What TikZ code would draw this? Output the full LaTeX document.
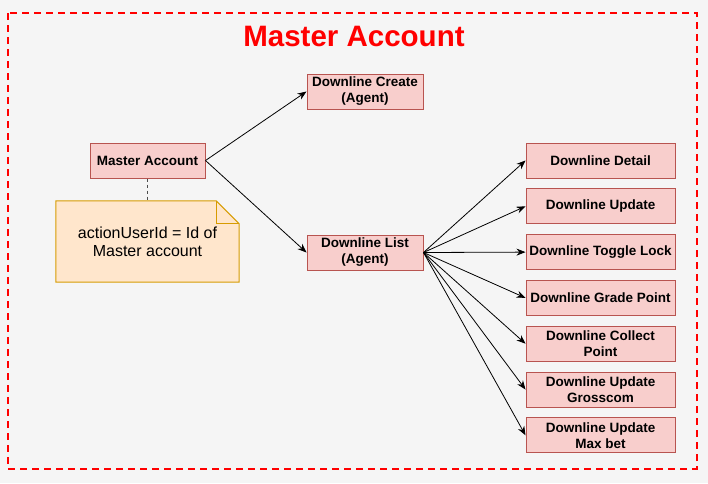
\documentclass[tikz,border=0pt]{standalone}
\usepackage{fontspec}
\setmainfont{Liberation Sans}
\usetikzlibrary{arrows.meta, positioning}

\definecolor{bggray}{HTML}{F5F5F5}
\definecolor{boxfill}{HTML}{F8CECC}
\definecolor{boxline}{HTML}{B85450}
\definecolor{notefill}{HTML}{FFE6CC}
\definecolor{noteline}{HTML}{D79B00}
\definecolor{framered}{HTML}{FF0000}

\begin{document}
\begin{tikzpicture}[
    x=1pt, y=-1pt,
    node distance=9.8pt,
    box/.style={rectangle, draw=boxline, fill=boxfill, line width=1pt, minimum width=116pt, minimum height=35pt, inner sep=1pt, align=center, font=\fontsize{13.5}{16}\selectfont\bfseries},
    rbox/.style={box, minimum width=149pt},
    notebox/.style={rectangle, fill=notefill, minimum width=183pt, minimum height=81pt, align=center, font=\fontsize{16}{18}\selectfont},
    arrow/.style={-{Stealth[length=9pt, width=7pt]}, line width=0.8pt, draw=black},
    link/.style={line width=1.2pt, draw=black!70, dash pattern=on 3pt off 3pt}
]
    \useasboundingbox (0,0) rectangle (708,483);
    \fill[bggray] (0,0) rectangle (708,483);

    % OUTER FRAME
    \draw[framered, line width=2pt, dash pattern=on 7pt off 5pt] (7.5,13) rectangle (696.5,468.5);
    \node (title) at (354,36) {\color{framered}\fontsize{29.5}{33}\selectfont\bfseries Master Account};

    % MASTER ACCOUNT AND NOTE
    \node (master) [box, minimum width=115pt] at (147.5,160.5) {Master Account};
    \node (note) [notebox] at (147.5,241.5) {actionUserId = Id of\\Master account};
    \fill[bggray] ([xshift=-23pt]note.north east) -- (note.north east) -- ([yshift=-23pt]note.north east) -- cycle;
    \draw[noteline, line width=1pt] (note.north west) -- ([xshift=-23pt]note.north east) -- ([yshift=-23pt]note.north east) -- (note.south east) -- (note.south west) -- cycle;
    \draw[noteline, line width=1pt] ([xshift=-23pt]note.north east) -- ([xshift=-23pt, yshift=-23pt]note.north east) -- ([yshift=-23pt]note.north east);

    % AGENT NODES
    \node (create) [box] at (365,91.5) {Downline Create\\(Agent)};
    \node (list) [box] at (365,252.5) {Downline List\\(Agent)};

    % DOWNLINE ACTIONS
    \node (detail) [rbox] at (600.5,160.5) {Downline Detail};
    \node (update) [rbox, below=of detail] {Downline Update};
    \node (lock) [rbox, below=of update] {Downline Toggle Lock};
    \node (grade) [rbox, below=of lock] {Downline Grade Point};
    \node (collect) [rbox, below=of grade] {Downline Collect\\Point};
    \node (gross) [rbox, below=of collect] {Downline Update\\Grosscom};
    \node (maxbet) [rbox, below=of gross] {Downline Update\\Max bet};

    % CONNECTORS
    \draw [link] (master.south) -- (note.north);
    \draw [arrow] (master.east) -- (create.west);
    \draw [arrow] (master.east) -- (list.west);
    \draw [arrow] (list.east) -- (detail.west);
    \draw [arrow] (list.east) -- (update.west);
    \draw [arrow] (list.east) -- (lock.west);
    \draw [arrow] (list.east) -- (grade.west);
    \draw [arrow] (list.east) -- (collect.west);
    \draw [arrow] (list.east) -- (gross.west);
    \draw [arrow] (list.east) -- (maxbet.west);

\end{tikzpicture}
\end{document}
